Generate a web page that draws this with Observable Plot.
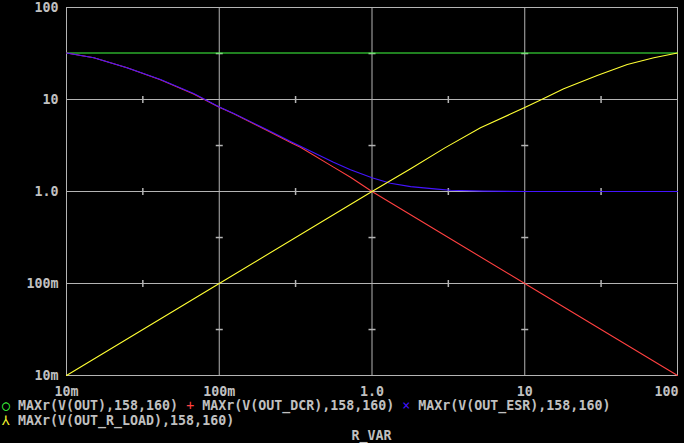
<!DOCTYPE html>
<html><head><meta charset="utf-8">
<script src="https://cdn.jsdelivr.net/npm/d3@7"></script>
<script src="https://cdn.jsdelivr.net/npm/@observablehq/plot@0.6"></script>
<style>
html,body{margin:0;padding:0;background:#000;}
body{width:684px;height:443px;overflow:hidden;font-family:"DejaVu Sans Mono",monospace;font-weight:bold;font-size:13.3px;color:#c0c0c0;}
#chart svg{display:block;}
#legend{line-height:15px;padding-left:2px;white-space:pre;}
.sym{display:inline-block;width:8px;text-align:center;font-weight:normal;}
#xlabel{line-height:15px;margin-left:66px;width:611px;text-align:center;white-space:pre;}
</style>
</head><body>
<div id="chart"></div>
<div id="legend"></div>
<div id="xlabel"></div>
<script>
// ---- data ----
const outR = [0.01, 100];
const outV = [32, 32];

const dcrR = [0.01, 0.0151, 0.0249, 0.0412, 0.068, 0.0993, 0.1245, 0.206, 0.30, 0.34, 0.56, 0.723, 1.0, 3.16, 10, 31.6, 100];
const dcrV = [32, 28.4, 22.1, 16.4, 11.5, 8.3, 7.0, 4.6, 3.35, 3.03, 1.84, 1.43, 1.0, 0.316, 0.1, 0.0316, 0.01];

const esrR = [0.01, 0.0151, 0.0249, 0.0412, 0.068, 0.0993, 0.1245, 0.206, 0.30, 0.34, 0.56, 0.723, 1.0, 1.32, 1.79, 2.67, 3.27, 5.37, 10, 100];
const esrV = [32, 28.4, 22.1, 16.5, 11.6, 8.35, 7.05, 4.7, 3.44, 3.1, 2.08, 1.72, 1.41, 1.23, 1.13, 1.06, 1.03, 1.01, 1.0, 1.0];

const loadR = [0.01, 0.1, 1.0, 1.79, 3.0, 5.13, 8.0, 10, 12.7, 18.0, 29.8, 46.9, 70, 100];
const loadV = [0.01, 0.1, 1.0, 1.77, 2.98, 4.92, 6.9, 8.2, 9.9, 13.1, 18.2, 24, 28.4, 32];

const seriesNames = ["MAXr(V(OUT),158,160)", "MAXr(V(OUT_DCR),158,160)", "MAXr(V(OUT_ESR),158,160)", "MAXr(V(OUT_R_LOAD),158,160)"];
const seriesColors = ["#40ff40", "#ff4040", "#4414ff", "#ffff33"];
const seriesSymbols = ["○", "+", "×", "⅄"];

const gridValues = [0.01, 0.1, 1, 10, 100];
const innerGrid = [0.1, 1, 10];
const halfDecades = [0.0316, 0.316, 3.16, 31.6];
const xTickLabels = ["10m", "100m", "1.0", "10", "100"];
const yTickLabels = ["10m", "100m", "1.0", "10", "100"];
const xAxisLabel = "R_VAR";

// ---- build ----
const gridColor = "#b4b4b4";
const series = [[outR, outV], [dcrR, dcrV], [esrR, esrV], [loadR, loadV]];
const lineData = series.map(([r, v], i) => r.map((x, j) => ({x, y: v[j], s: i})));

const hDash = {draw(ctx) { ctx.moveTo(-3.5, 0); ctx.lineTo(3.5, 0); }};
const vDash = {draw(ctx) { ctx.moveTo(0, -3.5); ctx.lineTo(0, 3.5); }};
const hTicks = innerGrid.flatMap(x => halfDecades.map(y => ({x, y})));
const vTicks = innerGrid.flatMap(y => halfDecades.map(x => ({x, y})));

const labelOf = (vals, labels) => d => labels[vals.indexOf(d)];
const lastX = gridValues[gridValues.length - 1];

const chart = Plot.plot({
  width: 684, height: 398,
  marginTop: 7, marginLeft: 66, marginRight: 7, marginBottom: 23,
  style: {background: "#000", color: "#c0c0c0", fontFamily: "DejaVu Sans Mono", fontSize: "13.3px", fontWeight: "bold"},
  x: {type: "log", domain: [0.01, 100]},
  y: {type: "log", domain: [0.01, 100]},
  marks: [
    Plot.ruleX(gridValues, {x: d => d, stroke: gridColor}),
    Plot.ruleY(gridValues, {y: d => d, stroke: gridColor}),
    Plot.dot(hTicks, {x: "x", y: "y", symbol: hDash, r: 4, fill: "none", stroke: gridColor}),
    Plot.dot(vTicks, {x: "x", y: "y", symbol: vDash, r: 4, fill: "none", stroke: gridColor}),
    Plot.axisX({ticks: gridValues.slice(0, -1), tickFormat: labelOf(gridValues, xTickLabels), tickSize: 0, tickPadding: 11, label: null, fill: "#c0c0c0"}),
    Plot.axisX({ticks: [lastX], tickFormat: labelOf(gridValues, xTickLabels), tickSize: 0, tickPadding: 11, label: null, fill: "#c0c0c0", textAnchor: "end", dx: 1}),
    Plot.axisY({ticks: gridValues, tickFormat: labelOf(gridValues, yTickLabels), tickSize: 0, tickPadding: 8, label: null, fill: "#c0c0c0"}),
    ...lineData.map((d, i) => Plot.line(d, {x: "x", y: "y", stroke: seriesColors[i], strokeWidth: 1.1}))
  ]
});
document.getElementById("chart").appendChild(chart);

// legend
const legend = document.getElementById("legend");
const item = i => `<span class="sym" style="color:${seriesColors[i]}">${seriesSymbols[i]}</span> ${seriesNames[i]}`;
legend.innerHTML = [0, 1, 2].map(item).join(" ") + "\n" + item(3);
document.getElementById("xlabel").textContent = xAxisLabel;
</script>
</body></html>
